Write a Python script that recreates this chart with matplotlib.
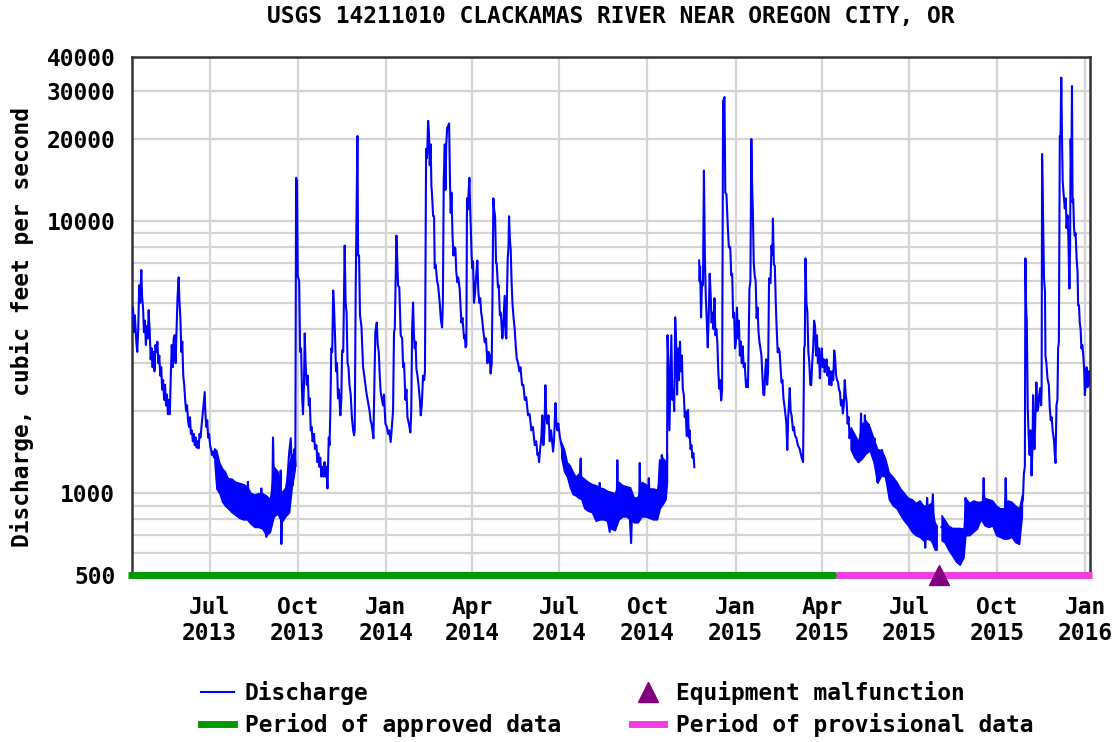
import numpy as np
import pandas as pd
import matplotlib
matplotlib.use('Agg')
import matplotlib.pyplot as plt
import matplotlib.dates as mdates
from matplotlib.ticker import FixedLocator, FixedFormatter, NullFormatter
from matplotlib.lines import Line2D

# ---- data: (days after START, discharge cfs) ----
START = pd.Timestamp('2013-04-11')
END_DAY = 1000

spring_2013 = [
    (1, 4800), (2, 3900), (3, 4500), (4.5, 3600), (5.5, 3300), (6.5, 4000), (7.5, 5800), (8.5, 5000),
    (9.7, 6600), (10.5, 5300), (11.5, 4800), (12.5, 3900), (13.5, 4300), (14.5, 3500), (15.5, 4100),
    (16.5, 3700), (17.4, 4700), (18.5, 3900), (19.5, 3100), (20.5, 3400), (21.5, 2900), (22.5, 3300),
    (23.5, 2800), (24.5, 3500), (25.5, 3300), (26.5, 3600), (27.5, 3000), (28.5, 3200), (29.5, 2700),
    (30.5, 2900), (31.5, 2400), (32.5, 2600), (33.5, 2200), (34.5, 2500), (35.5, 2100), (36.5, 2300),
    (37.5, 1950), (38.5, 2200), (39.5, 1950), (40.5, 2700), (41.5, 3500), (42.5, 2900), (43.5, 3700),
    (44.5, 3800), (45.5, 3000), (46.5, 4000), (47.5, 5200), (48.7, 6200), (49.5, 5100), (50.5, 4400),
    (51.5, 3300), (52.5, 3600), (53.5, 2700), (54.5, 2500), (55.5, 2200), (56.5, 2000), (57.5, 2100),
    (58.5, 1850), (59.5, 1750), (60.5, 1900), (61.5, 1650), (62.5, 1700), (63.5, 1550), (64.5, 1650),
    (65.5, 1500), (66.5, 1600), (67.5, 1470), (68.5, 1550), (69.5, 1460), (70.5, 1650), (71.5, 1600),
    (72.5, 1750), (73.5, 1900), (74.5, 2100), (75.9, 2350), (76.5, 2000), (77.5, 1750), (78.5, 1850),
    (79.5, 1600), (80.5, 1650), (81.5, 1500), (82.5, 1450), (83.5, 1380), (84.5, 1420), (85.5, 1350),
    (86.5, 1450), (88, 1350), (90, 1150), (93, 1100), (97, 1050), (100, 1000), (104, 950), (108, 950),
    (112, 930), (116, 900), (120, 920), (121, 1100), (122, 900), (126, 880), (130, 850), (134, 850),
    (135, 1040), (136, 850), (139, 800), (140.2, 690), (141, 820), (145, 800), (146.5, 1000),
    (147.2, 1600), (148, 1150), (150, 1000), (152, 900), (154, 950), (155.2, 1210), (155.9, 650),
    (157, 950), (160, 950), (162, 1100),
]

fall_2013 = [
    (164, 1400), (165.7, 1590), (167, 1200), (168, 1070), (169.5, 1450), (170.5, 1250), (171.3, 14400),
    (172.2, 14000), (173, 6300), (174.5, 6000), (175.5, 3300), (176.5, 3400), (177.5, 2300), (178.5, 1950),
    (179.5, 2500), (180.3, 3860), (181.2, 3000), (182.4, 2500), (183.5, 2700), (184.5, 2100), (185.5, 2230),
    (186.6, 1700), (187.5, 1750), (188.5, 1550), (190, 1650), (191, 1450), (192.5, 1500), (193.5, 1300),
    (194.5, 1400), (195.5, 1250), (196.5, 1350), (197.7, 1150), (199, 1250), (200, 1150), (201, 1300),
    (202, 1150), (203, 1250), (204, 1040), (205.4, 1600), (206.2, 1500), (207, 1960), (208, 3400),
    (209, 3300), (210, 5550), (211, 4700), (212, 3700), (213, 2800), (214, 3000), (215, 2230), (216, 2400),
    (217.5, 1930), (218.5, 2200), (219.3, 3340), (220.5, 3300), (222, 8110), (223, 5000), (224, 4600),
    (225, 3000), (226, 2900), (227, 2500), (228.3, 2300), (229.5, 1900), (230.8, 1700), (231.8, 1630),
    (232.5, 1700), (233.5, 5640), (235.3, 20500), (236, 7460), (237, 7460), (238, 4500), (239.5, 4100),
    (240.5, 3300), (241.2, 2900), (242.5, 2700), (243.6, 2500), (245, 2300), (246.4, 2150), (248, 2000),
    (249, 1850), (250, 1800), (251, 1700), (252, 1590), (253, 2500), (254, 3900), (255.5, 4230),
    (256.5, 3500), (257.6, 3300), (258.6, 2700), (259.6, 2350), (261, 2200), (262, 2100), (263, 2300),
]

winter_2014 = [
    (264.5, 1800), (266, 1750), (267.3, 1650), (268.5, 1700), (270, 1540), (271, 1700), (272.5, 2010),
    (273.5, 3900), (274.3, 4010), (276, 8830), (277, 7000), (277.7, 5790), (279, 5700), (280.5, 3800),
    (282, 3700), (283, 2900), (284, 3000), (285.4, 2200), (286.5, 2400), (287.5, 1900), (289, 1800),
    (290.6, 1670), (291.5, 2000), (292.4, 4010), (293.4, 5010), (294.3, 3800), (295.1, 3400), (296, 3600),
    (296.9, 2860), (298, 2700), (299.3, 2450), (300.5, 2200), (301.4, 1930), (302.5, 2100), (303.8, 2700),
    (305, 2600), (305.8, 2800), (307, 18400), (308, 17000), (309.1, 23300), (310, 21000), (310.8, 16000),
    (311.8, 19100), (312.5, 13500), (313.2, 12500), (314.3, 10400), (315.3, 10400), (316, 6700),
    (317, 6900), (318.5, 6000), (319.5, 5800), (320.5, 5300), (321.2, 5000), (322.5, 4300), (323.7, 4060),
    (324.5, 5000), (325.4, 14000), (326.5, 19100), (327.2, 13000), (328, 19000), (329, 22000),
    (330, 22300), (331, 22800), (332, 13500), (332.7, 10700), (333.5, 12700), (334.5, 9000),
    (335.5, 7460), (336.5, 8000), (337.6, 7900), (338.5, 6500), (339.6, 5950), (340.5, 6200),
    (342, 5640), (343, 4800), (343.8, 4230), (345, 4400), (346.6, 3700), (347.5, 3800), (348.2, 3430),
    (349, 3500), (349.7, 12100), (350.5, 11000), (351.2, 12500), (352.2, 14400), (353, 11000),
    (353.6, 9600), (354.5, 7400), (355.2, 6700), (356, 7100), (357, 5000), (358, 5400), (359.1, 6200),
    (360.5, 7150), (361.5, 5500), (362.6, 5000), (363.5, 5200), (364.5, 4600), (365.4, 4390),
    (366.5, 4000), (368.2, 3580), (369.5, 3700), (371, 3000), (372.3, 3300), (373.4, 3200),
    (374.3, 2750), (375.5, 3000), (376.2, 5000), (377.2, 12100), (378, 11000), (379, 10400),
    (380, 7000), (380.7, 6970), (382, 5700), (382.8, 5800), (384, 4500), (385, 4600), (386.6, 3700),
    (387.5, 4100), (389, 5300), (390, 3800), (390.8, 3700), (391.5, 5600), (392.2, 7300), (393, 8000),
    (393.6, 10400), (394.5, 8500), (395.3, 7900), (396.2, 6000), (397.1, 5000), (398.3, 4400),
    (399.5, 4000), (400.5, 3500), (401.6, 3120), (403, 3000), (404.4, 2800), (405.5, 2900),
    (407.2, 2490), (408.5, 2500), (410, 2200), (411.5, 2250), (413.4, 1930), (415, 1950), (416.9, 1700),
    (418.5, 1750), (420.4, 1500), (422, 1550), (423.2, 1380), (424.2, 1400), (424.9, 1300), (426, 1450),
    (427.3, 1600), (428.2, 1930), (429.4, 1500), (430.5, 1700), (431.5, 2490), (432.5, 1900),
    (433.6, 1800), (434.8, 1930), (436, 1550), (437.5, 1700), (439.5, 1420), (440.5, 1550), (442, 2140),
    (443, 1800), (444, 1700), (445, 1800), (446.5, 1620), (447.5, 1550), (448.9, 1450),
]

summer_2014 = [
    (450.5, 1400), (452, 1300), (454, 1200), (456, 1150), (458, 1080), (460, 1050), (462, 1000),
    (464, 1050), (466, 1080), (467.5, 1150), (468.4, 1340), (469.3, 1000), (471, 1000), (474, 950),
    (477, 930), (480, 900), (483, 880), (486, 860), (487.4, 900), (488.2, 1090), (489, 880), (492, 850),
    (495, 850), (498.7, 720), (499.5, 880), (502, 880), (504, 860), (506, 900), (506.6, 1320),
    (507.3, 950), (510, 920), (513, 900), (516, 930), (519, 900), (521, 655), (522, 880), (525, 900),
    (528, 880), (529.5, 950), (530, 1290), (530.7, 950), (533, 950), (536, 960), (538.5, 1000),
    (539.5, 1135), (540.3, 950), (543, 920), (546, 900), (549, 950), (551, 1320), (552, 1050),
    (553, 1380), (554, 1150), (556, 1200), (557.5, 1100), (558.5, 1300), (559, 3800), (560, 3000),
    (561, 1700), (562, 2500), (563, 3800), (564, 2200), (565, 2400), (566, 2000), (567, 4420),
    (568, 3600), (569, 2300), (570, 3400), (571, 2600), (572, 3600), (573, 2800), (574, 3200),
    (575, 2400), (576, 2300), (577, 1900), (578, 2000), (579, 1620), (580.4, 2020), (581.3, 1600),
    (582, 1700), (583, 1450), (584, 1500), (585, 1350), (586, 1400), (587, 1245),
]

winter_2015 = [
    (592, 7150), (592.5, 6000), (593, 6800), (594, 4420), (595, 5950), (596, 5800), (597, 15300),
    (598, 7300), (599, 5200), (600, 4300), (601, 3430), (602, 4500), (603, 6400), (604, 5400),
    (605, 4230), (606, 4600), (607, 4000), (608, 5200), (609, 3800), (610, 4000), (611, 3580),
    (612, 2800), (613, 2420), (614, 2600), (615, 2190), (616, 2400), (617, 27500), (618.5, 28500),
    (619.3, 12700), (620.5, 12500), (622, 9400), (623, 8000), (624.5, 8000), (625.5, 6300),
    (626.5, 6400), (627.5, 4420), (628.5, 4600), (629.5, 3400), (630.5, 3600), (631.5, 4800),
    (632.5, 3700), (633.5, 4300), (634.5, 3200), (635.5, 3600), (636.5, 3000), (637.5, 3460),
    (638.5, 2900), (639.5, 3000), (641, 2450), (642, 2600), (643, 2450), (644.5, 5640), (645.5, 6000),
    (646.5, 20000), (647.2, 14000), (648, 11100), (649, 7000), (650, 6300), (651, 6000), (652, 4390),
    (653, 4800), (654, 3900), (655, 3580), (656, 3400), (657, 3200), (658, 2700), (659, 2300),
    (660, 2290), (661, 2800), (662, 3100), (663, 2500), (664, 2800), (665, 6150), (665.7, 5950),
    (666.5, 5900), (667.5, 8110), (668.5, 7500), (669, 10200), (670, 6900), (671, 6850), (672, 5000),
    (672.7, 4230), (674, 3290), (675, 3400), (676, 3300), (677, 2900), (678, 2550), (679, 2600),
    (680, 2230), (681, 2100), (682, 1950), (683, 1820), (684, 1440), (685, 1900), (686.6, 2430),
    (687.5, 2000), (688.5, 1930), (690, 1700), (691, 1750), (692, 1630), (693.6, 1590), (695, 1500),
    (697, 1450), (699, 1350), (700.5, 1300),
]

spring_2015 = [
    (701.6, 3400), (702.3, 3500), (703, 7280), (704, 5000), (705, 4620), (706, 3300), (707, 3020),
    (708, 2500), (709, 2490), (710, 3000), (711, 3400), (712, 4300), (713, 4100), (714, 3200),
    (715, 3800), (716, 3000), (717, 3400), (718, 2640), (719, 3100), (720, 3400), (721, 2900),
    (722, 3100), (723, 2780), (724, 2900), (725, 3100), (726, 2700), (727, 2900), (728, 2500),
    (729, 2800), (730, 2490), (731, 2800), (732, 2600), (733, 3340), (734, 3100), (735, 2700),
    (736, 2600), (737, 2550), (738, 2400), (739, 2350), (740, 2100), (741, 2200), (742, 1960),
    (743, 2100), (744, 2600), (745, 2300), (746, 2150), (747, 1800), (748, 1900), (749, 1590),
    (750, 1700), (751, 1650), (753, 1500), (755, 1450), (757, 1350), (758, 1300), (760, 1400),
    (761, 1960), (762, 1500), (763, 1700), (764, 1400), (765, 1930), (766, 1500), (767, 1400),
    (768, 1600), (769, 1790), (770, 1500), (772, 1450), (774, 1450), (775, 1590), (776, 1350),
    (777, 1250), (778, 1100), (779, 1300), (780, 1200), (782, 1350), (783, 1440), (784, 1250),
    (786, 1200), (788, 1100), (791, 1050), (794, 1000), (797, 950), (800, 950), (803, 900), (806, 880),
    (809, 850), (812, 850), (815, 800), (818, 800), (821, 800), (824, 780), (827, 760), (828, 630),
    (829, 800), (830, 960), (831, 800), (834, 780), (836, 990), (837, 750), (838, 640), (839.5, 620),
]

fall_2015 = [
    (845, 750), (847, 750), (850, 700), (853, 680), (856, 660), (859, 650), (862, 620), (865, 640),
    (868, 660), (869.5, 700), (870, 960), (871, 900), (873, 820), (876, 800), (879, 830), (882, 830),
    (885, 860), (888, 880), (889, 1135), (890, 880), (893, 870), (896, 860), (899, 850), (902, 820),
    (905, 800), (908, 780), (911, 800), (912, 1135), (913, 820), (916, 800), (919, 800), (922, 780),
    (925, 760), (927, 800), (928.5, 900), (930, 950), (931, 1180), (932, 1250), (932.6, 7280),
    (933.3, 4800), (934, 4300), (935, 2050), (936, 1600), (937, 1380), (938, 1700), (939, 1160),
    (940, 1500), (940.6, 2290), (941.3, 1700), (942, 1450), (943, 1900), (944, 2550), (945, 2000),
    (946, 2050), (947, 2300), (948, 2430), (949, 2100), (949.5, 2400), (950, 17600), (951, 10400),
    (952, 6150), (953, 5500), (953.5, 3200), (954.5, 3000), (955.6, 2640), (957, 2500), (958, 2050),
    (959, 1850), (960, 1900), (961, 1700), (962.5, 1550), (963.2, 1400), (964, 1290), (965, 2100),
    (966, 2200), (966.7, 3400), (967.5, 3600), (968.5, 20500), (969.2, 20000), (970, 33600),
    (970.8, 20000), (971.5, 14000), (972.5, 12500), (973.7, 11100), (974.7, 12100), (975.5, 9400),
    (976.5, 10500), (977.3, 9000), (978.5, 5640), (979.2, 8000), (979.8, 20000), (980.5, 15000),
    (981.2, 31300), (981.8, 11700), (982.5, 12000), (983.3, 9500), (984, 8830), (985, 9000),
    (986, 7280), (987, 6500), (987.6, 4890), (988.5, 4900), (989.3, 4230), (990.2, 4000), (991, 3400),
    (992, 3500), (993, 3200), (994, 2800), (994.6, 2290), (995.5, 2500), (996.5, 2900), (997.5, 2450),
    (998.5, 2800), (999.5, 2500), (1000.5, 2700),
]

# daily fluctuation envelope during low flow: (day, upper cfs, lower cfs)
band_2013 = [
    (86, 1450, 1300), (88, 1440, 1040), (91, 1300, 1000), (94, 1235, 930), (97, 1200, 900),
    (100, 1135, 880), (104, 1130, 850), (108, 1100, 830), (112, 1090, 810), (116, 1080, 800),
    (120, 1060, 800), (124, 1000, 770), (128, 990, 750), (132, 1000, 750), (136, 1000, 740),
    (140, 980, 700), (144, 950, 720), (148, 1250, 820), (152, 1200, 840), (156, 1000, 780),
    (160, 1050, 820), (164, 1300, 850), (167, 1380, 1070), (170, 1450, 1220),
]
band_2014 = [
    (448, 1540, 1350), (451, 1450, 1200), (454, 1300, 1150), (457, 1266, 1050), (460, 1200, 990),
    (463, 1150, 980), (466, 1180, 960), (469, 1150, 950), (472, 1130, 880), (476, 1100, 860),
    (480, 1080, 850), (484, 1070, 790), (488, 1050, 800), (492, 1040, 800), (496, 1020, 790),
    (500, 1010, 740), (504, 1000, 730), (508, 1100, 800), (512, 1070, 820), (516, 1060, 820),
    (520, 1050, 800), (524, 960, 780), (528, 970, 780), (532, 1100, 820), (536, 1080, 820),
    (540, 1040, 810), (544, 1040, 800), (548, 1030, 800), (551, 1150, 880), (554, 1350, 910),
    (557, 1300, 950), (558.5, 1400, 1100),
]
band_2015 = [
    (750, 1750, 1450), (754, 1650, 1350), (758, 1550, 1300), (762, 1800, 1340), (766, 1850, 1400),
    (770, 1750, 1430), (774, 1590, 1300), (778, 1450, 1090), (782, 1440, 1160), (786, 1350, 1150),
    (790, 1190, 950), (794, 1150, 900), (798, 1100, 880), (802, 1040, 830), (806, 1000, 790),
    (810, 960, 760), (814, 950, 720), (818, 920, 700), (822, 940, 690), (826, 900, 670),
    (830, 900, 680), (834, 920, 670), (838, 780, 620), (840, 760, 620),
]
band_fall_2015 = [
    (845, 830, 670), (848, 800, 660), (852, 760, 620), (856, 745, 590), (860, 745, 560),
    (864, 745, 545), (868, 740, 580), (870, 960, 700), (874, 920, 700), (878, 940, 720),
    (882, 930, 740), (886, 930, 800), (890, 960, 760), (894, 950, 750), (898, 940, 760),
    (902, 900, 700), (906, 880, 690), (910, 880, 680), (914, 940, 680), (918, 930, 690),
    (922, 900, 660), (926, 880, 650), (929, 990, 830),
]

approved_period = (-4, 735)
provisional_period = (735, 1002)
malfunction_day = 842

y_major = [500, 1000, 10000, 20000, 30000, 40000]
y_minor = [600, 700, 800, 900, 2000, 3000, 4000, 5000, 6000, 7000, 8000, 9000]

BLUE = '#0000ff'
GREEN = '#009a00'
PINK = '#f03ee0'
PURPLE = '#800080'
GRID = '#d4d4d4'

plt.rcParams['font.family'] = ['DejaVu Sans Mono']
plt.rcParams['font.weight'] = 'bold'
FS = 16.5

t0 = mdates.date2num(START.to_pydatetime())


def to_xy(seg):
    arr = np.array(seg, dtype=float)
    return t0 + arr[:, 0], arr[:, 1]


fig = plt.figure(figsize=(11.17, 7.42), dpi=100)
ax = fig.add_axes([132 / 1117, 1 - 575 / 742, (1090 - 132) / 1117, (575 - 57) / 742])

# discharge line, broken where no record exists
pieces = [spring_2013 + fall_2013 + winter_2014 + summer_2014,
          winter_2015 + spring_2015,
          fall_2015]
for seg in pieces:
    x, y = to_xy(seg)
    ax.plot(x, y, color=BLUE, lw=1.5, zorder=3)

for band in (band_2013, band_2014, band_2015, band_fall_2015):
    arr = np.array(band, dtype=float)
    ax.fill_between(t0 + arr[:, 0], arr[:, 2], arr[:, 1], color=BLUE, lw=1.0, zorder=3)

ax.set_yscale('log')
ax.set_ylim(500, 40000)
ax.set_xlim(t0, t0 + END_DAY)

ax.yaxis.set_major_locator(FixedLocator(y_major))
ax.yaxis.set_major_formatter(FixedFormatter([str(v) for v in y_major]))
ax.yaxis.set_minor_locator(FixedLocator(y_minor))
ax.yaxis.set_minor_formatter(NullFormatter())

ax.xaxis.set_major_locator(mdates.MonthLocator(bymonth=(1, 4, 7, 10)))
ax.xaxis.set_major_formatter(mdates.DateFormatter('%b\n%Y'))

ax.grid(True, which='both', color=GRID, lw=1.6, zorder=0)
ax.set_axisbelow(True)
ax.tick_params(axis='both', which='both', length=0, labelsize=FS)
ax.tick_params(axis='x', pad=15)
ax.tick_params(axis='y', pad=12)
for lab in ax.get_xticklabels() + ax.get_yticklabels():
    lab.set_fontweight('bold')

for sp in ax.spines.values():
    sp.set_color('#333333')
    sp.set_linewidth(1.8)

ax.set_ylabel('Discharge, cubic feet per second', fontsize=FS, fontweight='bold')
ax.yaxis.set_label_coords(-0.1023, 0.479)

# data-status bars along the bottom and the malfunction mark
ax.plot(t0 + np.array(approved_period), [500, 500], color=GREEN, lw=5,
        solid_capstyle='butt', clip_on=False, zorder=4)
ax.plot(t0 + np.array(provisional_period), [500, 500], color=PINK, lw=5,
        solid_capstyle='butt', clip_on=False, zorder=4)
ax.plot([t0 + malfunction_day], [500], marker='^', ms=15, color=PURPLE,
        clip_on=False, zorder=5, ls='none')

fig.text(611 / 1117, 1 - 17 / 742, 'USGS 14211010 CLACKAMAS RIVER NEAR OREGON CITY, OR',
         ha='center', va='center', fontsize=FS, fontweight='bold')

handles = [
    Line2D([], [], color=BLUE, lw=1.5),
    Line2D([], [], color=GREEN, lw=5),
    Line2D([], [], color=PURPLE, marker='^', ms=14, ls='none'),
    Line2D([], [], color=PINK, lw=5),
]
labels = ['Discharge', 'Period of approved data', 'Equipment malfunction', 'Period of provisional data']
fig.legend(handles, labels, ncol=2, loc='upper left', bbox_to_anchor=(190 / 1117, 1 - 670 / 742),
           frameon=False, handlelength=1.4, handletextpad=0.5,
           columnspacing=3.1, labelspacing=0.35, borderpad=0, prop={'weight': 'bold', 'size': FS})

fig.savefig('out.png', dpi=100)
